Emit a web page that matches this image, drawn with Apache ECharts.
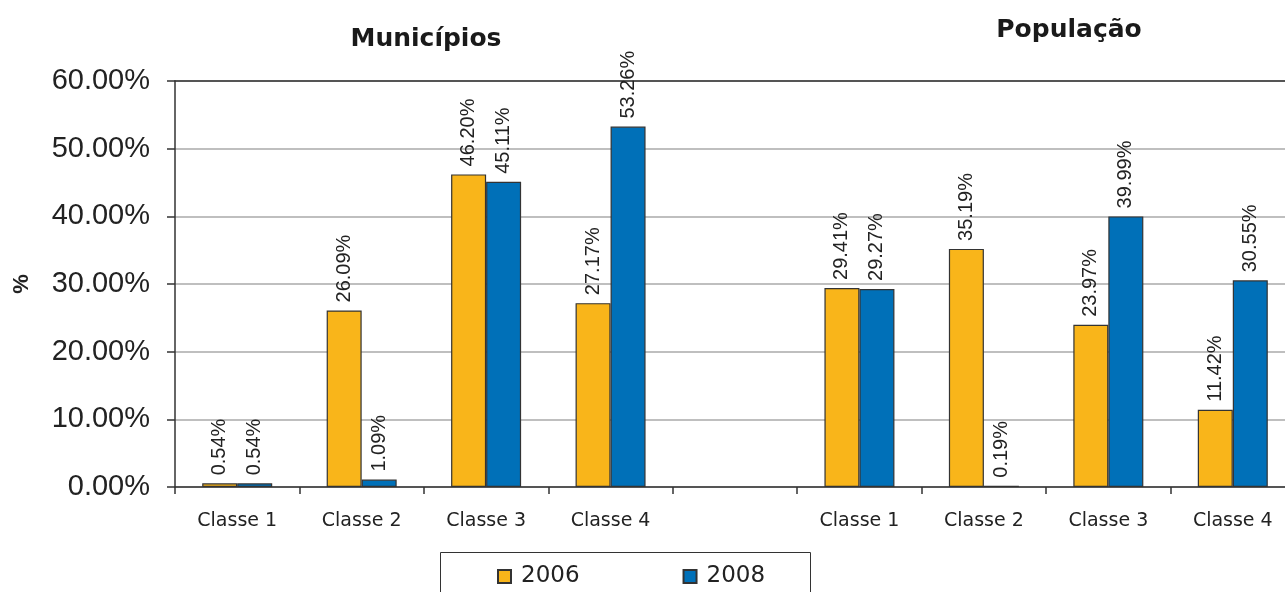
<!DOCTYPE html>
<html>
<head>
<meta charset="utf-8">
<script src="https://cdn.jsdelivr.net/npm/echarts@6/dist/echarts.min.js"></script>
<style>
  html, body { margin: 0; padding: 0; background: #fff; }
  #chart { width: 1285px; height: 592px; }
</style>
</head>
<body>
<div id="chart"></div>
<script>
// categories: 4 classes for Municípios, a blank slot, 4 classes for População
const categories = ['Classe 1', 'Classe 2', 'Classe 3', 'Classe 4', '', 'Classe 1', 'Classe 2', 'Classe 3', 'Classe 4']
const values2006 = [0.54, 26.09, 46.20, 27.17, null, 29.41, 35.19, 23.97, 11.42]
const values2008 = [0.54, 1.09, 45.11, 53.26, null, 29.27, 0.19, 39.99, 30.55]
const yTicks = [0, 10, 20, 30, 40, 50, 60]

// the original's horizontal text is a bit wide, DejaVu gets closer
const wideFont = 'DejaVu Sans, sans-serif'
const font = 'Liberation Sans, Arial, sans-serif'
const chart = echarts.init(document.getElementById('chart'))

const barLabel = {
  show: true,
  position: 'top',
  rotate: 90,
  align: 'left',
  verticalAlign: 'middle',
  distance: 8,
  color: '#222',
  fontSize: 20,
  fontFamily: font,
  formatter: (p) => p.value.toFixed(2) + '%',
}

const axisColor = '#333'

chart.setOption({
  backgroundColor: '#fff',
  animation: false,
  title: [
    {
      text: 'Municípios', left: 426, top: 27, textAlign: 'center', padding: 0,
      textStyle: { fontSize: 25, fontWeight: 'bold', color: '#1a1a1a', fontFamily: wideFont },
    },
    {
      text: 'População', left: 1069, top: 18, textAlign: 'center', padding: 0,
      textStyle: { fontSize: 25, fontWeight: 'bold', color: '#1a1a1a', fontFamily: wideFont },
    },
  ],
  legend: {
    left: 497,
    top: 565,
    padding: 0,
    itemWidth: 13,
    itemHeight: 13,
    itemGap: 103,
    icon: 'rect',
    textStyle: { fontSize: 23, color: '#222', fontFamily: wideFont, padding: [0, 0, 0, 5] },
    data: ['2006', '2008'],
  },
  graphic: [
    {
      type: 'rect', left: 440, top: 552, z: -1,
      shape: { width: 370, height: 60 },
      style: { fill: '#fff', stroke: axisColor, lineWidth: 1 },
    },
  ],
  grid: {
    left: 175, top: 81, width: 1120, height: 406,
    outerBoundsMode: 'none',
    containLabel: false,
  },
  xAxis: [
    {
      type: 'category',
      data: categories,
      axisLine: { lineStyle: { color: axisColor, width: 1.5 } },
      axisTick: { show: true, interval: 0, length: 7, lineStyle: { color: axisColor, width: 1.5 } },
      axisLabel: { interval: 0, margin: 25, fontSize: 19, color: '#222', fontFamily: wideFont },
    },
    {
      // top frame line only
      type: 'category',
      position: 'top',
      data: categories,
      axisLine: { show: true, lineStyle: { color: axisColor, width: 1.5 } },
      axisTick: { show: false },
      axisLabel: { show: false },
    },
  ],
  yAxis: {
    type: 'value',
    min: yTicks[0],
    max: yTicks[yTicks.length - 1],
    interval: 10,
    name: '%',
    nameLocation: 'middle',
    nameGap: 142,
    nameRotate: 90,
    nameTextStyle: { fontSize: 22, fontWeight: 'bold', color: '#222', fontFamily: font },
    axisLine: { show: true, lineStyle: { color: axisColor, width: 1.5 } },
    axisTick: { show: true, length: 8, lineStyle: { color: axisColor, width: 1.5 } },
    axisLabel: {
      margin: 25, fontSize: 29, color: '#222', fontFamily: font,
      formatter: (v) => v.toFixed(2) + '%',
    },
    splitLine: { lineStyle: { color: '#aaa', width: 1.5 } },
  },
  series: [
    {
      name: '2006',
      type: 'bar',
      data: values2006,
      barWidth: 35,
      barGap: '0%',
      itemStyle: { color: '#F9B51A', borderColor: axisColor, borderWidth: 1.2 },
      label: barLabel,
    },
    {
      name: '2008',
      type: 'bar',
      data: values2008,
      barWidth: 35,
      itemStyle: { color: '#0070B8', borderColor: axisColor, borderWidth: 1.2 },
      label: barLabel,
    },
  ],
})
</script>
</body>
</html>
